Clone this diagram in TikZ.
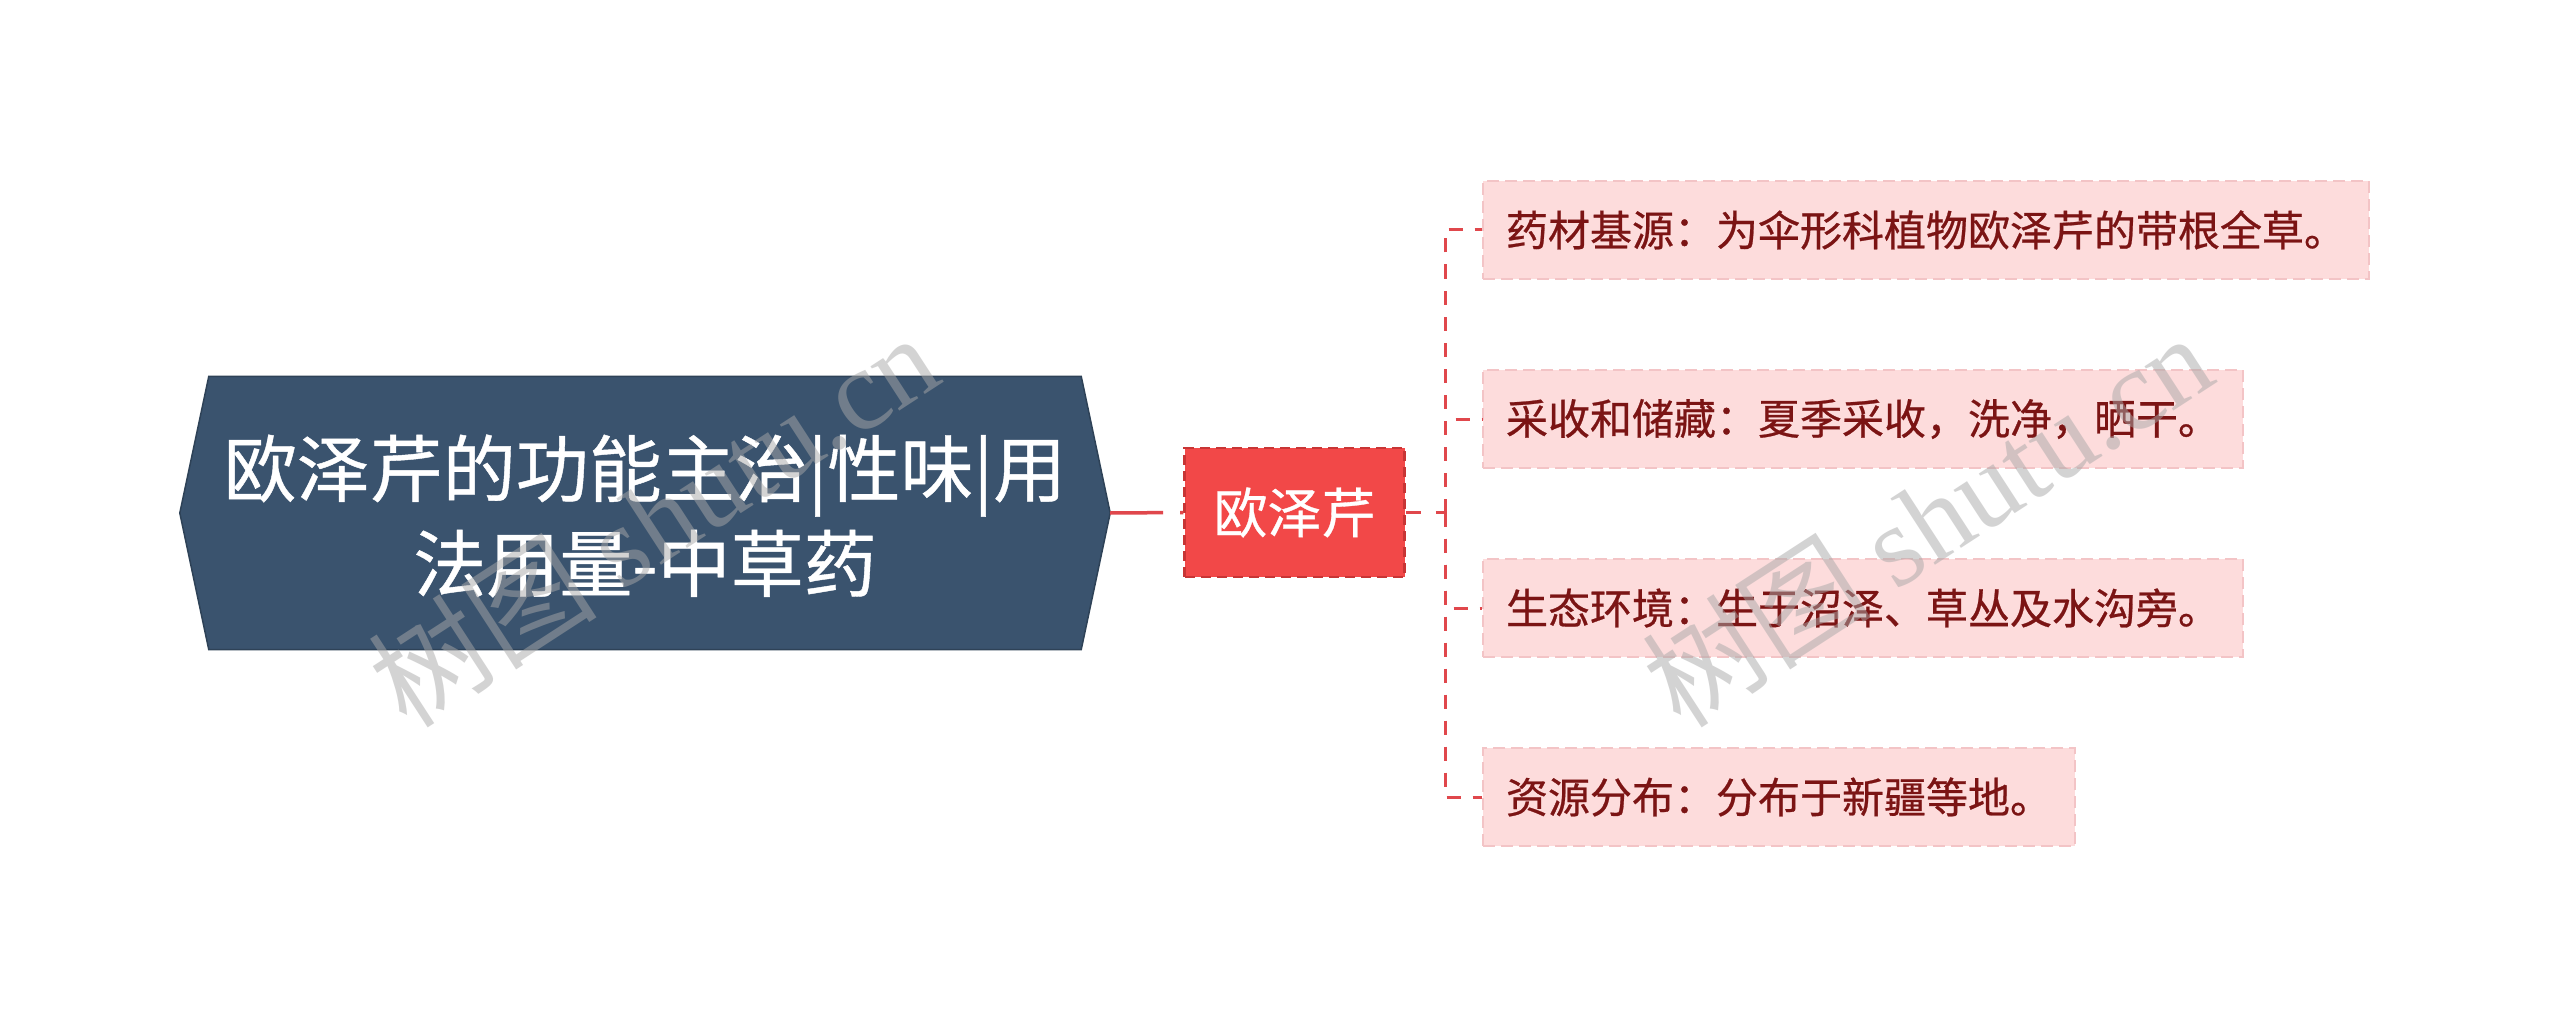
\documentclass[tikz,border=0pt]{standalone}
\usepackage{fontspec}
\setmainfont{Noto Sans CJK SC}
\newfontfamily\wmlatin{Liberation Serif}
\newfontfamily\medcjk[FakeBold=0.6]{Noto Sans CJK SC}
\usetikzlibrary{calc}
\definecolor{rootfill}{HTML}{3A536E}
\definecolor{rootline}{HTML}{2E4257}
\definecolor{midfill}{HTML}{F24848}
\definecolor{midline}{HTML}{C83535}
\definecolor{linkred}{HTML}{E0474C}
\definecolor{leaffill}{HTML}{FDDCDC}
\definecolor{leafline}{HTML}{F3C4C6}
\definecolor{leaftext}{HTML}{7B1414}
\definecolor{wmgray}{HTML}{A8A8A8}
\tikzset{
  rootbox/.style={inner sep=0pt, minimum width=930pt, minimum height=273pt, text=white, align=center,
    font=\medcjk\fontsize{73}{95}\selectfont},
  midbox/.style={fill=midfill, draw=midline, line width=2.5pt, dash pattern=on 10pt off 6pt,
    minimum width=220pt, minimum height=129pt, inner sep=0pt, text=white, font=\medcjk\fontsize{54}{60}\selectfont},
  leafbox/.style={fill=leaffill, draw=leafline, line width=2pt, dash pattern=on 12pt off 6pt,
    anchor=west, minimum height=98pt, inner xsep=23pt, inner ysep=0pt, text=leaftext,
    font=\medcjk\fontsize{42}{48}\selectfont},
  link/.style={draw=linkred, line width=3.5pt},
  trunk/.style={link, line width=3pt, dash pattern=on 14pt off 12pt},
  watermark/.style={text=wmgray, opacity=0.5, rotate=33, font=\fontsize{115}{120}\selectfont}
}
\begin{document}
\begin{tikzpicture}[x=1pt,y=-1pt]
\useasboundingbox (0,0) rectangle (2560,1027);
\fill[white] (0,0) rectangle (2560,1027);
% root
\node[rootbox] (root) at (645,513) {};
\filldraw[fill=rootfill, draw=rootline, line width=1.5pt]
  (root.west) -- ($(root.north west)+(29,0)$) -- ($(root.north east)+(-29,0)$) -- (root.east)
  -- ($(root.south east)+(-29,0)$) -- ($(root.south west)+(29,0)$) -- cycle;
\node[rootbox] (roottext) at (645,516) {欧泽芹的功能主治|性味|用\\法用量-中草药};
% middle
\node[midbox] (mid) at (1294.5,512.5) {欧泽芹};
\draw[link, dash pattern=on 53pt off 17pt on 12pt off 0pt] (root.east) -- (mid.west);
% leaves
\node[leafbox] (l1) at (1482,230) {药材基源：为伞形科植物欧泽芹的带根全草。};
\node[leafbox] (l2) at (1482,419) {采收和储藏：夏季采收，洗净，晒干。};
\node[leafbox] (l3) at (1482,608) {生态环境：生于沼泽、草丛及水沟旁。};
\node[leafbox] (l4) at (1482,797) {资源分布：分布于新疆等地。};
\coordinate (j) at (1445,512.5);
\draw[link, line width=3pt, dash pattern=on 15pt off 15pt on 10pt off 0pt] (mid.east) -- (j);
\draw[trunk] (j) |- (l1.west);
\draw[trunk] (j) |- (l2.west);
\draw[trunk] (j) |- (l3.west);
\draw[trunk] (j) |- (l4.west);
% watermarks
\node[watermark] (wm1) at (653,519) {树图 {\wmlatin shutu.cn}};
\node[watermark] (wm2) at (1927,519) {树图 {\wmlatin shutu.cn}};
\end{tikzpicture}
\end{document}
